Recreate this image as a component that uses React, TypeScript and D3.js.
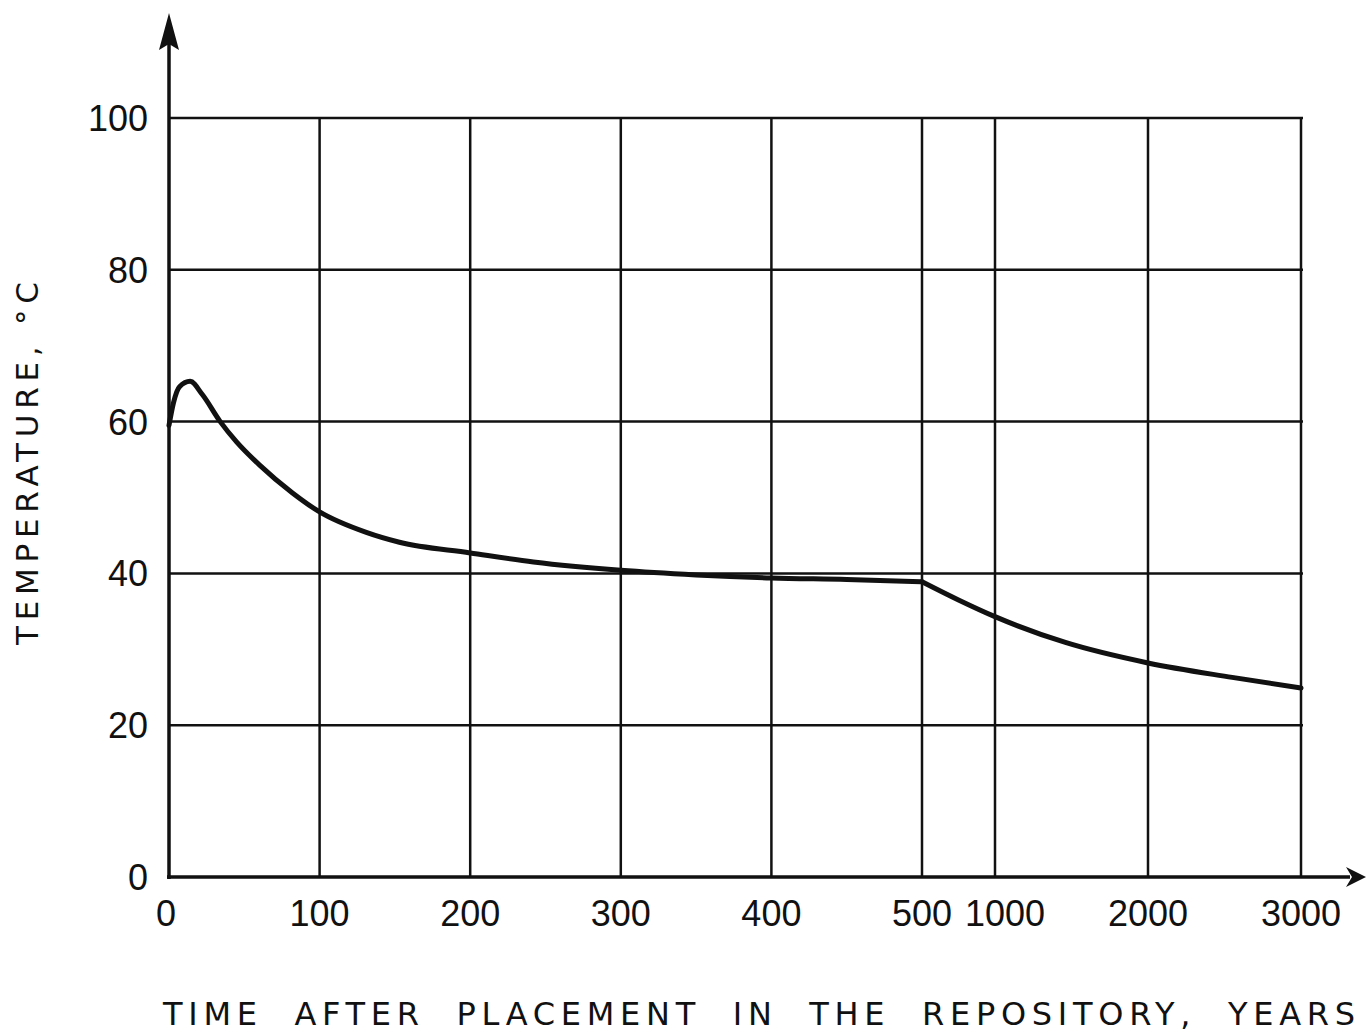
import React from "react";
import * as d3 from "d3";

// time after placement (years) and temperature (°C)
const years = [0, 3, 7, 14, 22, 34, 45, 60, 82, 100, 131, 153, 200, 242, 300, 350, 400, 450, 500];
const temps = [59.5, 62.5, 64.6, 65.3, 63.6, 60, 57.3, 54.3, 50.6, 48.1, 45.4, 44.1, 42.7, 41.5, 40.4, 39.8, 39.4, 39.2, 38.9];
const lateYears = [500, 750, 1000, 1460, 2000, 2550, 3000];
const lateTemps = [38.9, 36.5, 34.3, 30.9, 28.2, 26.3, 24.9];

const xTicks = [0, 100, 200, 300, 400, 500, 1000, 2000, 3000];
const yTicks = [0, 20, 40, 60, 80, 100];

const xTitle = "TIME  AFTER  PLACEMENT  IN  THE  REPOSITORY,  YEARS";
const yTitle = "TEMPERATURE, °C";

const W = 1366;
const H = 1033;
const ink = "#111";
const font = "'Liberation Sans', Arial, sans-serif";
const titleFont = "'DejaVu Sans', Verdana, sans-serif";

export default function App() {
	// the time axis is broken at 500: linear to 500, then a compressed stretch to 3000
	const x = d3.scaleLinear().domain([0, 500, 1000, 2000, 3000]).range([169, 922, 995, 1148, 1301]);
	const y = d3.scaleLinear().domain([0, 100]).range([877, 118]);

	const line = d3
		.line<[number, number]>()
		.x((d) => x(d[0]))
		.y((d) => y(d[1]))
		.curve(d3.curveMonotoneX);

	const early = years.map((t, i) => [t, temps[i]] as [number, number]);
	const late = lateYears.map((t, i) => [t, lateTemps[i]] as [number, number]);

	const x0 = x(0);
	const x1 = x(3000);
	const y0 = y(0);
	const y1 = y(100);

	return (
		<div style={{ position: "absolute", left: 0, top: 0 }}>
			<svg width={W} height={H} style={{ display: "block", background: "#fff" }}>
				{/* grid */}
				{yTicks
					.filter((v) => v > 0)
					.map((v) => (
						<line key={"h" + v} x1={x0} x2={x1 + 2} y1={y(v)} y2={y(v)} stroke={ink} strokeWidth={2.5} />
					))}
				{xTicks
					.filter((v) => v > 0)
					.map((v) => (
						<line key={"v" + v} x1={x(v)} x2={x(v)} y1={y1} y2={y0} stroke={ink} strokeWidth={2.5} />
					))}

				{/* axes with arrows */}
				<line x1={x0} x2={x0} y1={y0 + 2} y2={30} stroke={ink} strokeWidth={3.5} />
				<path d={`M${x0},13 L${x0 + 10},50 L${x0},44 L${x0 - 10},50 Z`} fill={ink} />
				<line x1={x0 - 2} x2={1350} y1={y0} y2={y0} stroke={ink} strokeWidth={3.5} />
				<path d={`M1366,${y0} L1346,${y0 + 10} L1352,${y0} L1346,${y0 - 10} Z`} fill={ink} />

				{/* curve */}
				<path d={line(early) ?? ""} fill="none" stroke={ink} strokeWidth={5} strokeLinejoin="round" strokeLinecap="round" />
				<path d={line(late) ?? ""} fill="none" stroke={ink} strokeWidth={5} strokeLinejoin="round" strokeLinecap="round" />

				{/* tick labels */}
				{yTicks.map((v) => (
					<text key={"yl" + v} x={148} y={y(v) + 13} textAnchor="end" fontFamily={font} fontSize={36} fill={ink}>
						{v}
					</text>
				))}
				{xTicks.map((v) => (
					<text
						key={"xl" + v}
						x={x(v) + (v === 1000 ? 10 : v === 0 ? -3 : 0)}
						y={926}
						textAnchor="middle"
						fontFamily={font}
						fontSize={36}
						fill={ink}
					>
						{v}
					</text>
				))}

				{/* titles */}
				<text
					x={163}
					y={1025}
					fontFamily={titleFont}
					fontSize={32}
					fill={ink}
					textLength={1192}
					lengthAdjust="spacing"
					style={{ whiteSpace: "pre" }}
				>
					{xTitle}
				</text>
				<text
					transform="translate(38,645) rotate(-90)"
					fontFamily={titleFont}
					fontSize={31}
					fill={ink}
					textLength={363}
					lengthAdjust="spacing"
				>
					{yTitle}
				</text>
			</svg>
		</div>
	);
}
